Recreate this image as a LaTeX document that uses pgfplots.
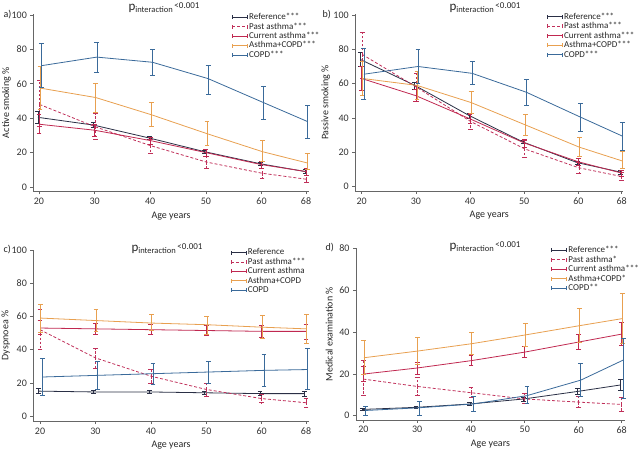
\documentclass[border=0pt]{standalone}
\usepackage{pgfplots}
\pgfplotsset{compat=1.18}
\usepackage{fontspec}
\setmainfont{Carlito}
\definecolor{cref}{HTML}{2A2F45}
\definecolor{cpast}{HTML}{C0305A}
\definecolor{ccur}{HTML}{C02850}
\definecolor{cac}{HTML}{E8A050}
\definecolor{ccopd}{HTML}{3A6A9A}
\newcommand{\pint}{{\fontsize{13}{14}\selectfont p}\raisebox{-2pt}{\fontsize{8.5}{9}\selectfont interaction}\,\raisebox{2pt}{\fontsize{9}{10}\selectfont <0.001}}
\pgfplotsset{
  panel/.style={scale only axis, anchor=south west, clip=false,
    axis lines*=left, axis line style={-, draw=black!60, line width=0.7pt},
    tick align=outside, tick style={draw=black!60, line width=0.6pt}, major tick length=3pt,
    /pgf/number format/assume math mode=true,
    tick label style={font=\fontsize{10}{11}\selectfont, text=black!80},
    label style={font=\fontsize{10}{11}\selectfont, text=black!85},
    xtick={20,30,40,50,60,68},
    xlabel={Age years},
    legend cell align=left,
    legend style={draw=none, fill=none, font=\fontsize{9}{10}\selectfont, text=black!85, row sep=-1.4pt, inner sep=0pt, anchor=north west, nodes={inner sep=1.5pt}},
    legend image code/.code={\draw[#1] (0pt,0pt) -- (15pt,0pt); \draw[#1,solid] (0pt,-2pt) -- (0pt,2pt) (15pt,-2pt) -- (15pt,2pt);},
  },
  eb/.style={error bars/.cd, y dir=both, y explicit, error mark=-, error bar style={line width=0.6pt}, error mark options={rotate=90, line width=0.6pt, mark size=2.4pt}},
  ebd/.style={error bars/.cd, y dir=both, y explicit, error mark=-, error bar style={line width=0.6pt, dash pattern=on 2.5pt off 1.5pt}, error mark options={rotate=90, solid, line width=0.6pt, mark size=2.4pt}},
  sref/.style={color=cref, line width=0.8pt, eb},
  spast/.style={color=cpast, line width=0.8pt, dash pattern=on 3pt off 2pt, ebd},
  scur/.style={color=ccur, line width=0.8pt, eb},
  sac/.style={color=cac, line width=0.8pt, eb},
  scopd/.style={color=ccopd, line width=0.8pt, eb},
}
\begin{document}
\begin{tikzpicture}
\useasboundingbox (0,0) rectangle (640pt,450pt);
% ---------- a ----------
\begin{axis}[panel, at={(33.4pt,258.7pt)}, width=275.4pt, height=177.2pt,
  xmin=19, xmax=68.5, ymin=-2.5, ymax=100.5, ytick={0,20,40,60,80,100},
  ylabel={Active smoking \%}, ylabel style={at={(axis description cs:-0.098,0.5)}, anchor=center},
  legend style={at={(0.72,1.015)}}]
\addplot[sref] coordinates {(19.8,40.5) +- (0,3.5) (29.8,36) +- (0,1.5) (39.8,28.5) +- (0,1) (49.8,20.5) +- (0,1) (59.8,13.5) +- (0,1) (67.8,9) +- (0,1)};
\addlegendentry{Reference***}
\addplot[spast] coordinates {(20.1,48) += (0,14) -= (0,13) (30.1,35) += (0,8) -= (0,7) (40.1,24) += (0,4) -= (0,4.5) (50.1,14.5) +- (0,3.5) (60.1,8) +- (0,3) (68.1,4.5) += (0,2.5) -= (0,2)};
\addlegendentry{Past asthma***}
\addplot[scur] coordinates {(20,36.5) +- (0,5.5) (30,33) +- (0,3.5) (40,27) +- (0,2) (50,20) +- (0,2) (60,13) +- (0,2.2) (68,9) +- (0,2)};
\addlegendentry{Current asthma***}
\addplot[sac] coordinates {(20.2,57.5) += (0,12.5) -= (0,12.5) (30.2,52) +- (0,8.5) (40.2,42) += (0,7) -= (0,6.5) (50.2,31) +- (0,7) (60.2,20.5) += (0,6.5) -= (0,5.5) (68.2,14) += (0,5.5) -= (0,4)};
\addlegendentry{Asthma+COPD***}
\addplot[scopd] coordinates {(20.4,70.5) += (0,13) -= (0,12.5) (30.4,75.5) += (0,8.5) -= (0,9) (40.4,72.5) +- (0,7.5) (50.4,63) += (0,8) -= (0,9) (60.4,49) +- (0,9.5) (68.3,38) +- (0,9.5)};
\addlegendentry{COPD***}
\end{axis}
% ---------- b ----------
\begin{axis}[panel, at={(355.2pt,259pt)}, width=268.1pt, height=176.9pt,
  xmin=18.8, xmax=68.3, ymin=-2.5, ymax=100.5, ytick={0,20,40,60,80,100},
  ylabel={Passive smoking \%}, ylabel style={at={(axis description cs:-0.11,0.5)}, anchor=center},
  legend style={at={(0.714,1.017)}}]
\addplot[sref] coordinates {(19.8,74) +- (0,4) (29.8,59) +- (0,2) (39.8,41.5) +- (0,1.5) (49.8,26) +- (0,1) (59.8,14) +- (0,1) (67.8,8.5) +- (0,1)};
\addlegendentry{Reference***}
\addplot[spast] coordinates {(20.1,77) += (0,13) -= (0,14) (30.1,58) +- (0,8) (40.1,38) += (0,5) -= (0,4.5) (50.1,22) +- (0,5) (60.1,11) += (0,3.5) -= (0,3) (67.9,6) += (0,2.5) -= (0,2)};
\addlegendentry{Past asthma***}
\addplot[scur] coordinates {(20,63) +- (0,7) (30,53) +- (0,3.5) (40,39.5) +- (0,2.5) (50,25.5) +- (0,2.3) (60,14.5) +- (0,2.3) (67.9,8) +- (0,1.8)};
\addlegendentry{Current asthma***}
\addplot[sac] coordinates {(20.2,63) +- (0,10) (30.2,59) +- (0,8) (40.2,49) += (0,6.5) -= (0,6) (50.2,36) +- (0,6) (60.2,23) +- (0,5.5) (68.1,15) += (0,5.5) -= (0,4.5)};
\addlegendentry{Asthma+COPD***}
\addplot[scopd] coordinates {(20.4,65.5) += (0,15) -= (0,14.5) (30.4,70) +- (0,10) (40.4,66) += (0,7) -= (0,6.5) (50.4,55) +- (0,7.5) (60.4,40.5) += (0,8) -= (0,8.5) (68.1,29.5) += (0,8) -= (0,8.5)};
\addlegendentry{COPD***}
\end{axis}
% ---------- c ----------
\begin{axis}[panel, at={(33.4pt,29pt)}, width=275.4pt, height=171pt,
  xmin=18.8, xmax=68.5, ymin=-3, ymax=100, ytick={0,20,40,60,80,100},
  ylabel={Dyspnoea \%}, ylabel style={at={(axis description cs:-0.1,0.5)}, anchor=center},
  legend style={at={(0.715,1.017)}}]
\addplot[sref] coordinates {(19.7,15) +- (0,1.5) (29.7,14.5) +- (0,1) (39.7,14.5) +- (0,0.8) (49.7,14) +- (0,1) (59.7,13.5) +- (0,1.2) (67.7,13.5) +- (0,1.5)};
\addlegendentry{Reference}
\addplot[spast] coordinates {(20,52) +- (0,12) (30,35) +- (0,6) (40,24) +- (0,4) (50,16) +- (0,4) (60,10.5) +- (0,2.5) (68,8) +- (0,2.5)};
\addlegendentry{Past asthma***}
\addplot[scur] coordinates {(20,53) += (0,4.5) -= (0,4) (30,52.5) +- (0,3.5) (40,52) += (0,3) -= (0,2.5) (50,51.5) +- (0,3) (60,51) +- (0,3.7) (68,51) += (0,4.5) -= (0,5)};
\addlegendentry{Current asthma}
\addplot[sac] coordinates {(20.1,59) +- (0,8.5) (30.1,57.5) += (0,6.5) -= (0,6.5) (40.1,56) += (0,5) -= (0,4.5) (50.1,55) += (0,5) -= (0,6) (60.1,53.5) += (0,7) -= (0,6.5) (68.1,52.5) += (0,8.5) -= (0,8.5)};
\addlegendentry{Asthma+COPD}
\addplot[scopd] coordinates {(20.4,23.5) += (0,11.5) -= (0,11) (30.4,24.5) += (0,8.5) -= (0,8.5) (40.4,25.5) += (0,6.5) -= (0,6.5) (50.4,26.5) += (0,6.5) -= (0,6.5) (60.4,27.5) += (0,9.5) -= (0,9.5) (68.3,28) += (0,12.5) -= (0,12)};
\addlegendentry{COPD}
\end{axis}
% ---------- d ----------
\begin{axis}[panel, at={(356pt,30.1pt)}, width=268.9pt, height=171.6pt,
  xmin=18.64, xmax=68.6, ymin=-2, ymax=80, ytick={0,20,40,60,80},
  ylabel={Medical examination \%}, ylabel style={at={(axis description cs:-0.1,0.5)}, anchor=center},
  legend style={at={(0.725,1.022)}}]
\addplot[sref] coordinates {(19.8,3) +- (0,0.6) (29.8,4) +- (0,0.6) (39.8,5.6) +- (0,0.6) (49.8,8) +- (0,1) (59.8,11.6) +- (0,1.5) (67.8,14.7) += (0,2.5) -= (0,2.4)};
\addlegendentry{Reference***}
\addplot[spast] coordinates {(20,17.5) += (0,9) -= (0,7.6) (30,14) += (0,4.3) -= (0,4.4) (40,11) +- (0,2.4) (50,8) += (0,2.7) -= (0,2.1) (60,6.5) += (0,2.6) -= (0,2.7) (68,5.4) += (0,3.2) -= (0,3.2)};
\addlegendentry{Past asthma*}
\addplot[scur] coordinates {(20,19.9) +- (0,3.5) (30,22.8) += (0,2.7) -= (0,2.9) (40,26.3) +- (0,2.4) (50,30.4) +- (0,2.7) (60,35.2) += (0,3.7) -= (0,3.5) (68,39) += (0,5.5) -= (0,5.2)};
\addlegendentry{Current asthma***}
\addplot[sac] coordinates {(20.1,27.7) += (0,8.3) -= (0,8) (30.1,30.9) += (0,6.5) -= (0,6.4) (40.1,34.4) += (0,5.4) -= (0,5.1) (50.1,38.6) += (0,5.5) -= (0,5.6) (60.1,43) += (0,8.3) -= (0,8) (68.1,46.4) += (0,12.1) -= (0,11.8)};
\addlegendentry{Asthma+COPD*}
\addplot[scopd] coordinates {(20.4,2.5) += (0,1.8) -= (0,2.5) (30.4,3.8) += (0,2.9) -= (0,3.5) (40.4,5.6) += (0,3.5) -= (0,3.4) (50.4,9.6) += (0,4.3) -= (0,3.7) (60.4,17) += (0,8) -= (0,7.9) (68.3,26.6) += (0,10.4) -= (0,18.3)};
\addlegendentry{COPD**}
\end{axis}
% ---------- titles and panel labels ----------
\node[text=black!85] at (164pt,442pt) {\pint};
\node[text=black!85] at (485pt,442pt) {\pint};
\node[text=black!85] at (167pt,201pt) {\pint};
\node[text=black!85] at (485pt,203pt) {\pint};
\node[font=\fontsize{10}{12}\selectfont, text=black!85, anchor=west] at (0pt,435pt) {a)};
\node[font=\fontsize{10}{12}\selectfont, text=black!85, anchor=west] at (319pt,435pt) {b)};
\node[font=\fontsize{10}{12}\selectfont, text=black!85, anchor=west] at (0pt,200pt) {c)};
\node[font=\fontsize{10}{12}\selectfont, text=black!85, anchor=west] at (322pt,202pt) {d)};
\end{tikzpicture}
\end{document}
